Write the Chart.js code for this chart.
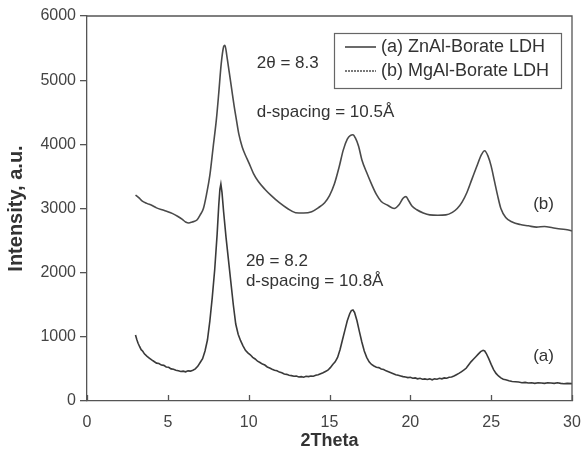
<!DOCTYPE html>
<html>
<head>
<meta charset="utf-8">
<script src="https://cdn.jsdelivr.net/npm/chart.js@4.4.1/dist/chart.umd.min.js"></script>
<style>
html,body{margin:0;padding:0;background:#fff;}
#wrap{width:582px;height:460px;}
</style>
</head>
<body>
<div id="wrap"><canvas id="c" width="582" height="460"></canvas></div>
<script>
// ---- data ----
const seriesLabels = ['(a) ZnAl-Borate LDH', '(b) MgAl-Borate LDH'];
const xTickValues = [0, 5, 10, 15, 20, 25, 30];
const yTickValues = [0, 1000, 2000, 3000, 4000, 5000, 6000];

const thetaA = [3.0,3.08,3.16,3.25,3.35,3.45,3.55,3.7,3.85,4.0,4.15,4.3,4.45,4.6,4.75,4.9,5.05,5.2,5.35,5.5,5.65,5.8,5.95,6.1,6.25,6.4,6.55,6.7,6.85,7.0,7.15,7.3,7.45,7.6,7.75,7.9,8.05,8.15,8.22,8.28,8.35,8.45,8.6,8.75,8.9,9.05,9.2,9.35,9.5,9.65,9.8,9.95,10.1,10.25,10.4,10.55,10.7,10.85,11.0,11.15,11.3,11.45,11.6,11.75,11.9,12.05,12.2,12.35,12.5,12.65,12.8,12.95,13.1,13.25,13.4,13.55,13.7,13.85,14.0,14.15,14.3,14.45,14.6,14.75,14.9,15.05,15.2,15.35,15.5,15.65,15.8,15.95,16.1,16.25,16.35,16.45,16.55,16.7,16.85,17.0,17.15,17.3,17.45,17.6,17.75,17.9,18.05,18.2,18.35,18.5,18.65,18.8,18.95,19.1,19.25,19.4,19.55,19.7,19.85,20.0,20.15,20.3,20.45,20.6,20.75,20.9,21.05,21.2,21.35,21.5,21.65,21.8,21.95,22.1,22.25,22.4,22.55,22.7,22.85,23.0,23.15,23.3,23.45,23.6,23.75,23.9,24.05,24.2,24.35,24.5,24.6,24.7,24.85,25.0,25.15,25.3,25.45,25.6,25.75,25.9,26.1,26.3,26.5,26.7,26.9,27.1,27.3,27.5,27.7,27.9,28.1,28.3,28.5,28.7,28.9,29.1,29.3,29.5,29.7,30.0];
const intensityA = [1030,960,900,850,800,775,735,700,670,640,615,590,585,560,555,530,525,500,495,480,470,460,465,455,470,465,480,500,540,600,660,780,950,1250,1620,2050,2600,3050,3300,3380,3250,2950,2550,2200,1850,1500,1200,1040,940,860,790,750,720,680,655,620,600,575,560,530,515,495,480,470,450,440,420,415,400,395,385,390,375,380,370,385,380,390,385,400,410,425,440,460,480,520,570,610,680,800,950,1100,1250,1360,1410,1420,1380,1250,1080,920,780,680,610,570,545,525,520,500,490,470,455,440,425,410,400,390,380,375,365,370,355,360,345,355,340,345,335,345,330,345,340,355,345,360,355,370,375,390,410,430,455,480,510,560,610,650,690,730,770,790,780,740,660,570,490,430,390,360,340,330,315,305,300,295,285,290,280,285,275,285,280,275,285,280,275,285,275,270,275,270];

const thetaB = [3.0,3.2,3.4,3.7,4.0,4.3,4.7,5.0,5.3,5.6,5.9,6.1,6.3,6.5,6.8,7.0,7.2,7.4,7.6,7.8,8.0,8.15,8.3,8.45,8.53,8.65,8.8,8.95,9.1,9.25,9.4,9.6,9.8,10.0,10.3,10.6,11.0,11.4,11.9,12.4,12.9,13.4,13.9,14.3,14.7,15.0,15.3,15.6,15.85,16.1,16.3,16.45,16.6,16.8,17.0,17.3,17.6,17.9,18.2,18.6,19.0,19.3,19.55,19.73,19.9,20.1,20.4,20.8,21.2,21.7,22.2,22.6,22.9,23.2,23.5,23.8,24.1,24.4,24.6,24.8,25.0,25.2,25.4,25.6,25.9,26.3,26.8,27.3,27.8,28.3,28.8,29.3,29.7,30.0];
const intensityB = [3210,3170,3120,3080,3050,3010,2975,2950,2920,2880,2830,2790,2775,2790,2820,2900,3000,3230,3520,3950,4380,4800,5250,5520,5545,5380,5120,4860,4600,4370,4150,3960,3830,3720,3545,3420,3300,3200,3090,3000,2935,2930,2950,3010,3090,3200,3380,3650,3910,4080,4140,4150,4100,3970,3760,3560,3380,3220,3110,3050,3000,3060,3160,3185,3120,3040,2980,2930,2900,2895,2900,2940,3000,3100,3250,3450,3650,3840,3900,3820,3660,3430,3200,3000,2860,2790,2750,2730,2710,2720,2700,2680,2670,2650];

const annotations = [
  {text: '2\u03b8 = 8.3', x: 10.5, y: 5270},
  {text: 'd-spacing = 10.5\u00c5', x: 10.5, y: 4500},
  {text: '2\u03b8 = 8.2', x: 9.83, y: 2170},
  {text: 'd-spacing = 10.8\u00c5', x: 9.83, y: 1860},
  {text: '(b)', x: 27.6, y: 3070},
  {text: '(a)', x: 27.6, y: 700}
];

// ---- style ----
const FONT = "'Liberation Sans', Arial, sans-serif";
const AXIS = '#555';
const TEXT = '#333';
const TICKTXT = '#444';
const colorA = '#3a3a3a';
const colorB = '#4a4a4a';

const toPts = (xs, ys) => xs.map((v, i) => ({x: v, y: ys[i]}));

const decor = {
  id: 'decor',
  afterDraw(chart) {
    const {ctx, chartArea: ca, scales: {x, y}} = chart;
    ctx.save();
    ctx.strokeStyle = AXIS;
    ctx.lineWidth = 1.3;
    ctx.beginPath();
    ctx.moveTo(ca.left, ca.top);
    ctx.lineTo(ca.right, ca.top);
    ctx.lineTo(ca.right, ca.bottom);
    ctx.stroke();
    ctx.beginPath();
    xTickValues.forEach(v => {
      const px = Math.round(x.getPixelForValue(v)) + 0.5;
      ctx.moveTo(px, ca.bottom);
      ctx.lineTo(px, ca.bottom - 6);
    });
    ctx.stroke();
    ctx.fillStyle = TEXT;
    ctx.font = '17px ' + FONT;
    ctx.textAlign = 'left';
    ctx.textBaseline = 'middle';
    annotations.forEach(a => {
      ctx.fillText(a.text, x.getPixelForValue(a.x), y.getPixelForValue(a.y));
    });
    const lx = ca.right - 238, ly = ca.top + 17, lw = 227, lh = 55;
    ctx.strokeStyle = '#666';
    ctx.lineWidth = 1.2;
    ctx.strokeRect(lx + 0.5, ly + 0.5, lw, lh);
    const rows = [ly + 14, ly + 38];
    ctx.font = '18px ' + FONT;
    chart.data.datasets.forEach((ds, i) => {
      ctx.beginPath();
      ctx.strokeStyle = i === 0 ? colorA : '#7a7a7a';
      ctx.lineWidth = i === 0 ? 1.5 : 2;
      ctx.setLineDash(i === 0 ? [] : [2, 1]);
      ctx.moveTo(lx + 11, rows[i]);
      ctx.lineTo(lx + 42, rows[i]);
      ctx.stroke();
      ctx.setLineDash([]);
      ctx.fillStyle = TEXT;
      ctx.fillText(ds.label, lx + 47, rows[i]);
    });
    ctx.restore();
  }
};

new Chart(document.getElementById('c'), {
  type: 'scatter',
  data: {
    datasets: [
      {label: seriesLabels[0], data: toPts(thetaA, intensityA), showLine: true, borderColor: colorA, borderWidth: 1.6, pointRadius: 0, tension: 0},
      {label: seriesLabels[1], data: toPts(thetaB, intensityB), showLine: true, borderColor: colorB, borderWidth: 1.6, pointRadius: 0, cubicInterpolationMode: 'monotone'}
    ]
  },
  options: {
    responsive: false,
    animation: false,
    devicePixelRatio: 1,
    layout: {padding: {left: 0, right: 10, top: 16, bottom: 0}},
    plugins: {legend: {display: false}, tooltip: {enabled: false}},
    scales: {
      x: {
        type: 'linear', min: 0, max: 30,
        afterBuildTicks: s => { s.ticks = xTickValues.map(v => ({value: v})); },
        afterFit: s => { s.height = 59; s.paddingLeft = 0; s.paddingRight = 0; },
        ticks: {font: {family: FONT, size: 16}, color: TICKTXT, padding: 4, maxRotation: 0, autoSkip: false, callback: v => String(v)},
        grid: {display: false},
        border: {display: true, color: AXIS, width: 1.3},
        title: {display: true, text: '2Theta', font: {family: FONT, size: 18, weight: 'bold'}, color: TEXT, padding: {top: 0, bottom: 8}}
      },
      y: {
        type: 'linear', min: 0, max: 6000,
        afterBuildTicks: s => { s.ticks = yTickValues.map(v => ({value: v})); },
        afterFit: s => { s.width = 87; s.paddingTop = 0; s.paddingBottom = 0; },
        ticks: {font: {family: FONT, size: 16}, color: TICKTXT, padding: 4, autoSkip: false, callback: v => String(v)},
        grid: {display: true, drawOnChartArea: false, drawTicks: true, tickLength: 7, color: AXIS, lineWidth: 1.3},
        border: {display: true, color: AXIS, width: 1.3},
        title: {display: true, text: 'Intensity, a.u.', font: {family: FONT, size: 20, weight: 'bold'}, color: TEXT, padding: {top: 4, bottom: 0}}
      }
    }
  },
  plugins: [decor]
});
</script>
</body>
</html>
